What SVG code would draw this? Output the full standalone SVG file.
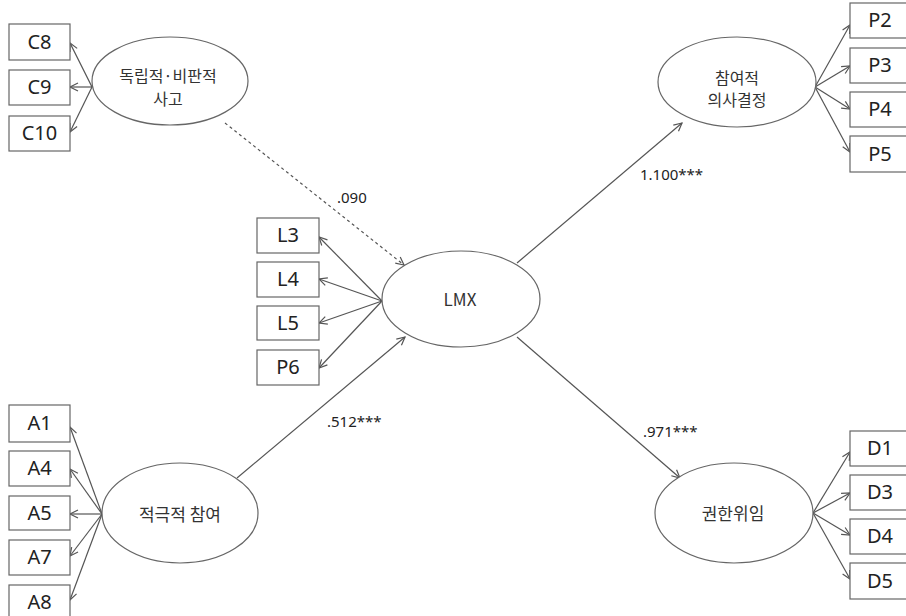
<svg xmlns="http://www.w3.org/2000/svg" width="906" height="616" viewBox="0 0 906 616">
<defs>
<marker id="arr" markerUnits="userSpaceOnUse" markerWidth="12" markerHeight="12" refX="9" refY="5" orient="auto" viewBox="0 0 12 10">
<path d="M1,1 L9,5 L1,9" fill="none" stroke="#555" stroke-width="1.2"/>
</marker>
</defs>
<style>
.box{fill:#fff;stroke:#666;stroke-width:1.2}
.ell{fill:#fff;stroke:#666;stroke-width:1.2}
.bt{font-family:"Noto Sans","Noto Sans CJK KR",sans-serif;font-size:20px;fill:#222;text-anchor:middle}
.et{font-family:"Noto Sans CJK KR","Noto Sans",sans-serif;font-size:17px;fill:#333;text-anchor:middle}
.et2{font-family:"Noto Sans CJK KR","Noto Sans",sans-serif;font-size:16px;fill:#333;text-anchor:middle}
.lt{font-family:"Noto Sans","Noto Sans CJK KR",sans-serif;font-size:15px;fill:#222}
.ln{stroke:#555;stroke-width:1.2;fill:none;marker-end:url(#arr)}
.dash{stroke-dasharray:3,3}
</style>
<rect width="906" height="616" fill="#fff"/>
<g id="connectors">
<line class="ln" x1="92" y1="87" x2="70" y2="43"/>
<line class="ln" x1="92" y1="87" x2="70" y2="87"/>
<line class="ln" x1="92" y1="87" x2="70" y2="132"/>
<line class="ln" x1="815" y1="87" x2="850" y2="25"/>
<line class="ln" x1="815" y1="87" x2="850" y2="66"/>
<line class="ln" x1="815" y1="87" x2="850" y2="109"/>
<line class="ln" x1="815" y1="87" x2="850" y2="152"/>
<line class="ln" x1="382" y1="301" x2="319" y2="237"/>
<line class="ln" x1="382" y1="301" x2="319" y2="279"/>
<line class="ln" x1="382" y1="301" x2="319" y2="323"/>
<line class="ln" x1="382" y1="301" x2="319" y2="368"/>
<line class="ln" x1="102" y1="514" x2="70" y2="427"/>
<line class="ln" x1="102" y1="514" x2="70" y2="469"/>
<line class="ln" x1="102" y1="514" x2="70" y2="514"/>
<line class="ln" x1="102" y1="514" x2="70" y2="556"/>
<line class="ln" x1="102" y1="514" x2="70" y2="600"/>
<line class="ln" x1="813" y1="513" x2="850" y2="452"/>
<line class="ln" x1="813" y1="513" x2="850" y2="493"/>
<line class="ln" x1="813" y1="513" x2="850" y2="535"/>
<line class="ln" x1="813" y1="513" x2="850" y2="579"/>
<line class="ln dash" x1="225" y1="123" x2="404" y2="265"/>
<line class="ln" x1="237" y1="478" x2="405" y2="337"/>
<line class="ln" x1="517" y1="263" x2="682" y2="123"/>
<line class="ln" x1="517" y1="337" x2="680" y2="478"/>
<text class="lt" x="337" y="203">.090</text>
<text class="lt" x="640" y="180">1.100***</text>
<text class="lt" x="327" y="427">.512***</text>
<text class="lt" x="643" y="437">.971***</text>
</g>
<g id="C8"><rect class="box" x="9" y="24" width="61" height="36"/><text class="bt" x="39.5" y="49">C8</text></g>
<g id="C9"><rect class="box" x="9" y="70" width="61" height="35"/><text class="bt" x="39.5" y="94">C9</text></g>
<g id="C10"><rect class="box" x="9" y="116" width="61" height="35"/><text class="bt" x="39.5" y="140">C10</text></g>
<g id="critical"><ellipse class="ell" cx="170" cy="81" rx="78" ry="44"/><text class="et2" x="168" y="82">독립적·비판적</text><text class="et2" x="168" y="105">사고</text></g>
<g id="participative"><ellipse class="ell" cx="737" cy="82" rx="79" ry="45"/><text class="et2" x="737" y="84">참여적</text><text class="et2" x="737" y="106">의사결정</text></g>
<g id="P2"><rect class="box" x="850" y="3" width="62" height="35"/><text class="bt" x="880" y="27">P2</text></g>
<g id="P3"><rect class="box" x="850" y="48" width="62" height="35"/><text class="bt" x="880" y="72">P3</text></g>
<g id="P4"><rect class="box" x="850" y="92" width="62" height="35"/><text class="bt" x="880" y="116">P4</text></g>
<g id="P5"><rect class="box" x="850" y="136" width="62" height="36"/><text class="bt" x="880" y="161">P5</text></g>
<g id="LMX"><ellipse class="ell" cx="461" cy="299" rx="79" ry="48"/><text class="et" x="460" y="306">LMX</text></g>
<g id="L3"><rect class="box" x="257" y="218" width="62" height="35"/><text class="bt" x="288" y="242">L3</text></g>
<g id="L4"><rect class="box" x="257" y="262" width="62" height="35"/><text class="bt" x="288" y="286">L4</text></g>
<g id="L5"><rect class="box" x="257" y="306" width="62" height="34"/><text class="bt" x="288" y="330">L5</text></g>
<g id="P6"><rect class="box" x="257" y="350" width="62" height="35"/><text class="bt" x="288" y="374">P6</text></g>
<g id="active"><ellipse class="ell" cx="180" cy="513" rx="78" ry="50"/><text class="et" x="180" y="521">적극적 참여</text></g>
<g id="A1"><rect class="box" x="9" y="405" width="61" height="37"/><text class="bt" x="39.5" y="430">A1</text></g>
<g id="A4"><rect class="box" x="9" y="451" width="61" height="35"/><text class="bt" x="39.5" y="475">A4</text></g>
<g id="A5"><rect class="box" x="9" y="496" width="61" height="34"/><text class="bt" x="39.5" y="520">A5</text></g>
<g id="A7"><rect class="box" x="9" y="540" width="61" height="35"/><text class="bt" x="39.5" y="564">A7</text></g>
<g id="A8"><rect class="box" x="9" y="585" width="61" height="36"/><text class="bt" x="39.5" y="609">A8</text></g>
<g id="empower"><ellipse class="ell" cx="734" cy="513" rx="79" ry="50"/><text class="et" x="733" y="520">권한위임</text></g>
<g id="D1"><rect class="box" x="850" y="431" width="62" height="35"/><text class="bt" x="880" y="455">D1</text></g>
<g id="D3"><rect class="box" x="850" y="475" width="62" height="35"/><text class="bt" x="880" y="499">D3</text></g>
<g id="D4"><rect class="box" x="850" y="519" width="62" height="35"/><text class="bt" x="880" y="543">D4</text></g>
<g id="D5"><rect class="box" x="850" y="563" width="62" height="36"/><text class="bt" x="880" y="588">D5</text></g>
</svg>
